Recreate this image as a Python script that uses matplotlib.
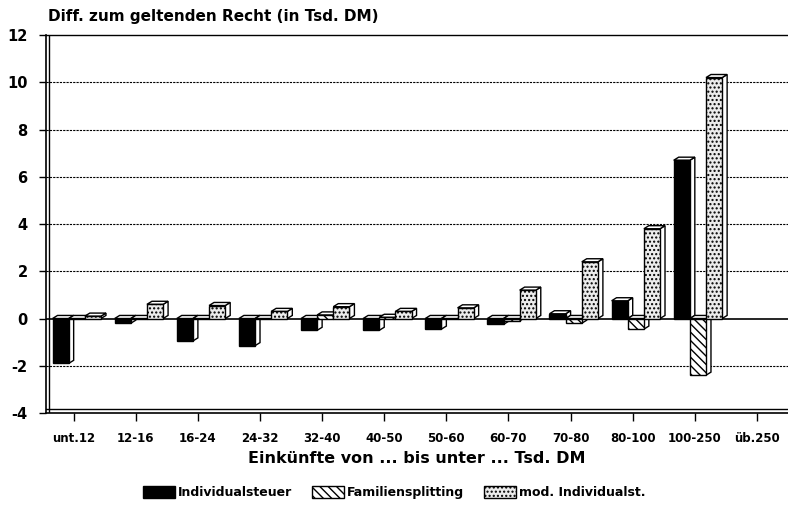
import numpy as np
import matplotlib
matplotlib.use("Agg")
import matplotlib.pyplot as plt
from matplotlib.patches import Polygon, Rectangle

# ===============================
# dados
# ===============================
kategorien = ["unt.12", "12-16", "16-24", "24-32", "32-40", "40-50",
              "50-60", "60-70", "70-80", "80-100", "100-250", "üb.250"]
individualsteuer = [-1.9, -0.2, -0.95, -1.15, -0.5, -0.5, -0.45, -0.25, 0.2, 0.75, 6.7, 0.0]
familiensplitting = [0.0, 0.0, 0.0, 0.0, 0.15, 0.05, 0.0, -0.1, -0.2, -0.45, -2.4, 0.0]
mod_individual = [0.1, 0.6, 0.55, 0.3, 0.5, 0.3, 0.45, 1.2, 2.4, 3.8, 10.2, 0.0]
y_ticks = [-4, -2, 0, 2, 4, 6, 8, 10, 12]

plt.rcParams["font.family"] = "DejaVu Sans"
plt.rcParams["font.weight"] = "bold"
plt.rcParams["hatch.linewidth"] = 1.0

fig = plt.figure(figsize=(7.88, 5.08), dpi=100)
ax = fig.add_axes([0.058, 0.187, 0.942, 0.744])

x = np.arange(len(kategorien))
w = 0.26
dx, dy = 0.08, 0.13  # tiefe (3D-Effekt)

serien = [
    (individualsteuer, -0.21, dict(facecolor="black", hatch=None), "Individualsteuer"),
    (familiensplitting, 0.05, dict(facecolor="white", hatch="\\\\\\\\"), "Familiensplitting"),
    (mod_individual, 0.31, dict(facecolor="#ececec", hatch="...."), "mod. Individualst."),
]

# gitter
for yv in y_ticks[1:-1]:
    if yv == 0:
        continue
    ax.axhline(yv, color="black", lw=0.8, ls=(0, (2, 1)), zorder=1)
ax.axhline(0, color="black", lw=1.2, zorder=1)

for i in range(len(kategorien) - 1):
    for werte, off, stil, name in serien:
        v = werte[i]
        x0 = x[i] + off - w / 2
        lo, hi = min(0, v), max(0, v)
        # seitenflaeche + deckel
        side = Polygon([(x0 + w, lo), (x0 + w + dx, lo + dy), (x0 + w + dx, hi + dy), (x0 + w, hi)],
                       closed=True, facecolor="white", edgecolor="black", lw=1.0, zorder=3)
        top = Polygon([(x0, hi), (x0 + dx, hi + dy), (x0 + w + dx, hi + dy), (x0 + w, hi)],
                      closed=True, facecolor="white", edgecolor="black", lw=1.0, zorder=3)
        ax.add_patch(side)
        ax.add_patch(top)
        ax.add_patch(Rectangle((x0, lo), w, hi - lo, edgecolor="black", lw=1.0, zorder=4, **stil))

ax.set_xlim(-0.45, 11.5)
ax.set_ylim(-4, 12)
ax.set_yticks(y_ticks)
ax.set_yticklabels([str(t) for t in y_ticks], fontsize=10.5)
ax.set_xticks(x)
ax.set_xticklabels(kategorien, fontsize=8.5)
ax.tick_params(axis="x", direction="out", length=6, width=1, pad=8)
ax.tick_params(axis="y", direction="out", length=5, width=1, pad=8)

ax.spines["right"].set_visible(False)
ax.spines["left"].set_linewidth(1.2)
ax.spines["bottom"].set_linewidth(1.2)
ax.spines["top"].set_linewidth(1.0)
# doppelte linie (3D wand)
ax.axvline(-0.39, color="black", lw=1.0, zorder=2)
ax.axhline(-3.85, color="black", lw=1.0, zorder=2)

fig.text(0.061, 0.968, "Diff. zum geltenden Recht (in Tsd. DM)", fontsize=11, va="center", ha="left")
ax.set_xlabel("Einkünfte von ... bis unter ... Tsd. DM", fontsize=11.5, fontweight="bold", labelpad=4)

handles = [Rectangle((0, 0), 1, 1, edgecolor="black", lw=1.0, **stil) for _, _, stil, _ in serien]
labels = [name for _, _, _, name in serien]
fig.legend(handles, labels, loc="center", bbox_to_anchor=(0.5, 0.03), ncol=3, frameon=False,
           fontsize=9, handlelength=2.6, handleheight=1.0, handletextpad=0.2, columnspacing=1.6)

fig.savefig("out.png", dpi=100)
